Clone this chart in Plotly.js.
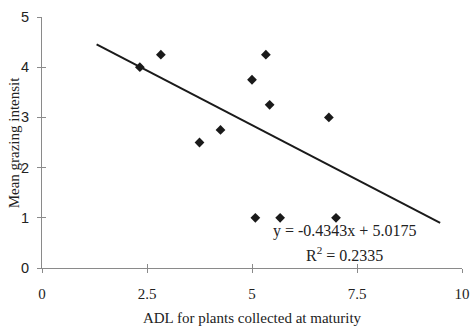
<!DOCTYPE html>
<html><head><meta charset="utf-8">
<script src="https://cdn.plot.ly/plotly-3.0.1.min.js"></script>
<style>html,body{margin:0;padding:0;background:#fff}#chart{width:473px;height:326px}</style>
</head><body><div id="chart"></div>
<script>
const adl = [2.33, 2.83, 3.75, 4.25, 5.0, 5.33, 5.42, 6.83, 5.08, 5.67, 7.0];
const grazing = [4.0, 4.25, 2.5, 2.75, 3.75, 4.25, 3.25, 3.0, 1.0, 1.0, 1.0];
const slope = -0.4343;
const intercept = 5.0175;
const rSquared = 0.2335;
const trendX = [1.3, 9.48];
const xTicks = [0, 2.5, 5, 7.5, 10];
const xTickText = ['0', '2.5', '5', '7.5', '10'];
const yTicks = [0, 1, 2, 3, 4, 5];

const trendY = trendX.map(x => slope * x + intercept);
const serif = 'Liberation Serif, Times New Roman, serif';
const sans = 'Liberation Sans, Arial, sans-serif';
const axisCol = '#8a8a8a';

const data = [
  {x: adl, y: grazing, type: 'scatter', mode: 'markers',
   marker: {symbol: 'diamond', size: 7.5, color: '#1a1a1a'}, hoverinfo: 'none'},
  {x: trendX, y: trendY, type: 'scatter', mode: 'lines',
   line: {color: '#1a1a1a', width: 2}, hoverinfo: 'none'},
  {x: [0], y: [-1], xaxis: 'x2', yaxis: 'y2', type: 'scatter', mode: 'markers', hoverinfo: 'none'}
];

const layout = {
  width: 473, height: 326,
  margin: {l: 42, r: 11, t: 17, b: 58},
  paper_bgcolor: '#fff', plot_bgcolor: '#fff',
  showlegend: false,
  xaxis: {range: [0, 10], tickvals: xTicks, ticktext: xTickText,
    showgrid: false, zeroline: false, showline: true, linecolor: axisCol, linewidth: 1,
    ticks: 'outside', ticklen: 4, tickcolor: axisCol, ticklabelstandoff: 8,
    tickfont: {family: serif, size: 15, color: '#222'},
    title: {text: 'ADL for plants collected at maturity', font: {family: serif, size: 15, color: '#222'}, standoff: 11}},
  yaxis: {range: [0, 5], tickvals: yTicks,
    showgrid: false, zeroline: false, showline: true, linecolor: axisCol, linewidth: 1,
    ticks: 'outside', ticklen: 4, tickcolor: axisCol, ticklabelstandoff: 5,
    tickfont: {family: sans, size: 14.5, color: '#222'}},
  xaxis2: {range: [0, 10], tickvals: xTicks, overlaying: 'x', anchor: 'y2', showticklabels: false,
    showgrid: false, zeroline: false, ticks: 'inside', ticklen: 4, tickcolor: axisCol},
  yaxis2: {range: [0, 5], tickvals: yTicks, overlaying: 'y', anchor: 'x2', showticklabels: false,
    showgrid: false, zeroline: false, ticks: 'inside', ticklen: 4, tickcolor: axisCol},
  annotations: [
    {x: -0.067, y: 0.5, xref: 'paper', yref: 'paper', showarrow: false, textangle: -90,
     xanchor: 'center', yanchor: 'middle',
     text: 'Mean grazing intensit',
     font: {family: serif, size: 15, color: '#222'}},
    {x: 7.2, y: 0.74, xref: 'x', yref: 'y', showarrow: false,
     text: 'y = ' + slope.toFixed(4) + 'x + ' + intercept.toFixed(4),
     font: {family: serif, size: 16, color: '#222'}},
    {x: 7.2, y: 0.28, xref: 'x', yref: 'y', showarrow: false,
     text: 'R<sup>2</sup> = ' + rSquared.toFixed(4),
     font: {family: serif, size: 16, color: '#222'}}
  ]
};

Plotly.newPlot('chart', data, layout, {staticPlot: true, displayModeBar: false});
</script></body></html>
